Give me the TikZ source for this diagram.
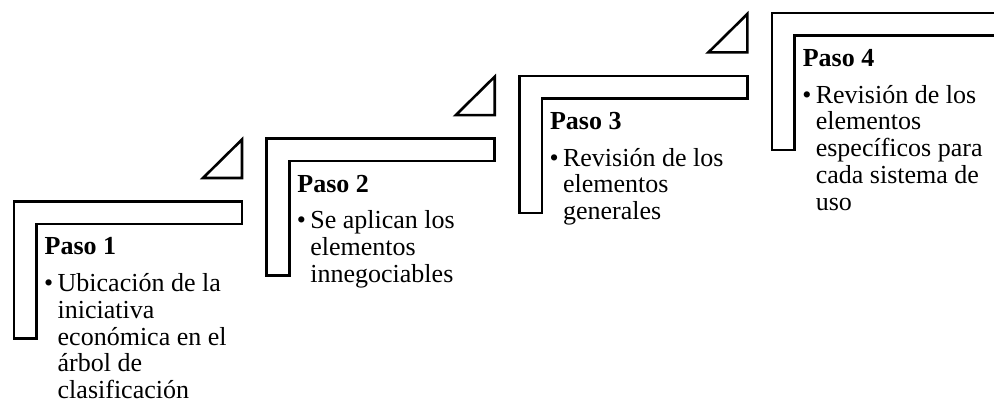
\documentclass[tikz,border=0pt]{standalone}
\usepackage{fontspec}
\setmainfont{Liberation Serif}
\begin{document}
\begin{tikzpicture}[x=1pt,y=-1pt,
  lshape/.style={draw=black,line width=2.6pt,fill=white,line join=miter},
  tri/.style={draw=black,line width=2.6pt,fill=white,line join=miter},
  head/.style={anchor=base west,inner sep=0pt,font=\fontsize{26}{27}\selectfont\bfseries},
  body/.style={anchor=base west,inner sep=0pt,font=\fontsize{26}{27}\selectfont},
  bul/.style={anchor=base west,inner sep=0pt,font=\fontsize{26}{27}\selectfont}]
\useasboundingbox (0,0) rectangle (994,406);
\clip (0,0) rectangle (994,406);
% Step 1
\begin{scope}[shift={(14,201.5)}]
  \draw[lshape] (0,0) -- (228,0) -- (228,22.5) -- (22.5,22.5) -- (22.5,137) -- (0,137) -- cycle;
  \draw[tri] (189,-23.5) -- (228,-62) -- (228,-23.5) -- cycle;
  \node[head] (h1) at (30.5,53.5) {Paso 1};
  \node[bul] (b1) at (30,90.2) {•};
  \node[body] (t1a) at (43.5,90.2) {Ubicación de la};
  \node[body] (t1b) at (43.5,116.9) {iniciativa};
  \node[body] (t1c) at (43.5,143.6) {económica en el};
  \node[body] (t1d) at (43.5,170.3) {árbol de};
  \node[body] (t1e) at (43.5,197) {clasificación};
\end{scope}
% Step 2
\begin{scope}[shift={(266.7,138.7)}]
  \draw[lshape] (0,0) -- (228,0) -- (228,22.5) -- (22.5,22.5) -- (22.5,137) -- (0,137) -- cycle;
  \draw[tri] (189,-23.5) -- (228,-62) -- (228,-23.5) -- cycle;
  \node[head] (h2) at (30.5,53.5) {Paso 2};
  \node[bul] (b2) at (30,90.2) {•};
  \node[body] (t2a) at (43.5,90.2) {Se aplican los};
  \node[body] (t2b) at (43.5,116.9) {elementos};
  \node[body] (t2c) at (43.5,143.6) {innegociables};
\end{scope}
% Step 3
\begin{scope}[shift={(519.4,75.9)}]
  \draw[lshape] (0,0) -- (228,0) -- (228,22.5) -- (22.5,22.5) -- (22.5,137) -- (0,137) -- cycle;
  \draw[tri] (189,-23.5) -- (228,-62) -- (228,-23.5) -- cycle;
  \node[head] (h3) at (30.5,53.5) {Paso 3};
  \node[bul] (b3) at (30,90.2) {•};
  \node[body] (t3a) at (43.5,90.2) {Revisión de los};
  \node[body] (t3b) at (43.5,116.9) {elementos};
  \node[body] (t3c) at (43.5,143.6) {generales};
\end{scope}
% Step 4
\begin{scope}[shift={(772.1,13.1)}]
  \draw[lshape] (0,0) -- (228,0) -- (228,22.5) -- (22.5,22.5) -- (22.5,137) -- (0,137) -- cycle;
  \node[head] (h4) at (30.5,53.5) {Paso 4};
  \node[bul] (b4) at (30,90.2) {•};
  \node[body] (t4a) at (43.5,90.2) {Revisión de los};
  \node[body] (t4b) at (43.5,116.9) {elementos};
  \node[body] (t4c) at (43.5,143.6) {específicos para};
  \node[body] (t4d) at (43.5,170.3) {cada sistema de};
  \node[body] (t4e) at (43.5,197) {uso};
\end{scope}
\end{tikzpicture}
\end{document}
